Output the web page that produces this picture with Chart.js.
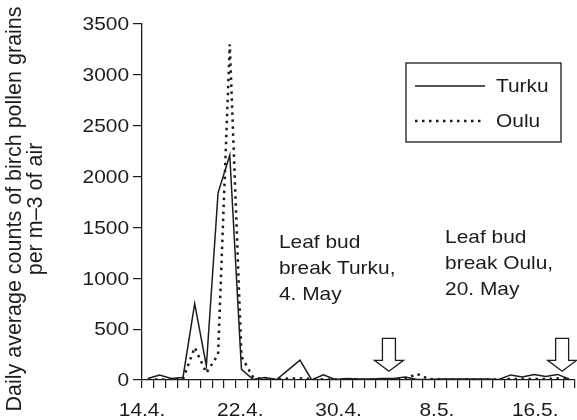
<!DOCTYPE html>
<html>
<head>
<meta charset="utf-8">
<script src="https://cdn.jsdelivr.net/npm/chart.js@4"></script>
<style>
  html, body { margin: 0; padding: 0; background: #fff; }
  canvas { display: block; }
</style>
</head>
<body>
<canvas id="pollenChart" width="577" height="420"></canvas>
<script>
// dates on the x axis, one per day
const dates = [
  "14.4.", "15.4.", "16.4.", "17.4.", "18.4.", "19.4.", "20.4.", "21.4.", "22.4.", "23.4.",
  "24.4.", "25.4.", "26.4.", "27.4.", "28.4.", "29.4.", "30.4.",
  "1.5.", "2.5.", "3.5.", "4.5.", "5.5.", "6.5.", "7.5.", "8.5.", "9.5.", "10.5.",
  "11.5.", "12.5.", "13.5.", "14.5.", "15.5.", "16.5.", "17.5.", "18.5.", "19.5.", "20.5."
];

// daily average counts
const turku = [
  15, 50, 15, 25, 750, 140, 1840, 2210, 105, 5,
  25, 5, 100, 195, 0, 50, 5,
  15, 10, 10, 15, 15, 30, 5, 5, 10, 10,
  10, 10, 10, 5, 50, 30, 55, 35, 55, 10
];
const oulu = [
  5, 5, 5, 10, 320, 70, 250, 3300, 230, 25,
  5, 5, 15, 15, 10, 5, 5,
  5, 5, 5, 5, 5, 10, 60, 10, 5, 5,
  5, 5, 5, 5, 10, 10, 10, 10, 15, 10
];

const yTicks = [0, 500, 1000, 1500, 2000, 2500, 3000, 3500];
const labelEvery = 8;
// the source spreads its date labels a little wider than the day slots
const labelSpread = 1.05;

const budBreak = [
  { lines: ["Leaf bud", "break Turku,", "4. May"], date: "4.5.", arrowShift: 0.6, textAt: 11.2, baseline: 248 },
  { lines: ["Leaf bud", "break Oulu,", "20. May"], date: "20.5.", arrowShift: -0.6, textAt: 25.4, baseline: 243 }
];

const INK = "#1c1c1c";
const FONT = "Liberation Sans, Arial, sans-serif";
const SX = 1.1; // the source text is a bit wider than plain Arial

function stretchText(ctx, s, x, y, align) {
  ctx.save();
  ctx.translate(x, y);
  ctx.scale(SX, 1);
  ctx.textAlign = align;
  ctx.fillText(s, 0, 0);
  ctx.restore();
}

function drawArrow(ctx, cx, top) {
  const shaftW = 13, headW = 29, shaftH = 22, headH = 11;
  ctx.save();
  ctx.beginPath();
  ctx.moveTo(cx - shaftW / 2, top);
  ctx.lineTo(cx + shaftW / 2, top);
  ctx.lineTo(cx + shaftW / 2, top + shaftH);
  ctx.lineTo(cx + headW / 2, top + shaftH);
  ctx.lineTo(cx, top + shaftH + headH);
  ctx.lineTo(cx - headW / 2, top + shaftH);
  ctx.lineTo(cx - shaftW / 2, top + shaftH);
  ctx.closePath();
  ctx.fillStyle = "#fff";
  ctx.fill();
  ctx.lineWidth = 1.3;
  ctx.strokeStyle = INK;
  ctx.stroke();
  ctx.restore();
}

const decorations = {
  id: "decorations",
  afterDraw(chart) {
    const ctx = chart.ctx;
    const x = chart.scales.x;
    const y = chart.scales.y;

    ctx.save();
    ctx.fillStyle = INK;
    ctx.textBaseline = "middle";
    ctx.font = "19px " + FONT;

    // y tick labels
    yTicks.forEach(v => {
      stretchText(ctx, String(v), y.right - 13, y.getPixelForValue(v) + 1, "right");
    });

    // x tick labels, every 8th day
    ctx.textBaseline = "alphabetic";
    dates.forEach((d, i) => {
      if (i % labelEvery !== 0) return;
      stretchText(ctx, d, x.getPixelForValue(i * labelSpread - 0.5), 416, "center");
    });

    // bud break notes and arrows
    budBreak.forEach(b => {
      const tx = x.getPixelForValue(b.textAt);
      b.lines.forEach((line, k) => {
        stretchText(ctx, line, tx, b.baseline + k * 26, "left");
      });
      const ax = x.getPixelForValue(dates.indexOf(b.date) + b.arrowShift);
      drawArrow(ctx, ax, y.getPixelForValue(410));
    });

    // legend box
    const box = { left: 406, top: 63, width: 155, height: 79 };
    ctx.lineWidth = 1.3;
    ctx.strokeStyle = INK;
    ctx.strokeRect(box.left, box.top, box.width, box.height);
    chart.data.datasets.forEach((ds, k) => {
      const ly = box.top + 23 + k * 35;
      ctx.save();
      ctx.beginPath();
      ctx.setLineDash(ds.borderDash || []);
      ctx.lineWidth = ds.borderWidth;
      ctx.strokeStyle = ds.borderColor;
      ctx.moveTo(box.left + 9, ly);
      ctx.lineTo(box.left + 79, ly);
      ctx.stroke();
      ctx.restore();
      ctx.textBaseline = "middle";
      stretchText(ctx, ds.label, box.left + 90, ly + 1, "left");
    });

    // rotated axis title, two lines
    ctx.font = "21.5px " + FONT;
    ctx.textAlign = "center";
    ctx.textBaseline = "alphabetic";
    ctx.translate(0, 209);
    ctx.rotate(-Math.PI / 2);
    ctx.fillText("Daily average counts of birch pollen grains", 0, 21);
    ctx.fillText("per m\u20133 of air", 0, 42);
    ctx.restore();
  }
};

const ctx = document.getElementById("pollenChart").getContext("2d");
new Chart(ctx, {
  type: "line",
  data: {
    labels: dates,
    datasets: [
      {
        label: "Turku",
        data: turku,
        borderColor: INK,
        borderWidth: 1.5,
        pointRadius: 0,
        tension: 0,
        fill: false
      },
      {
        label: "Oulu",
        data: oulu,
        borderColor: INK,
        borderWidth: 2.5,
        borderDash: [2.5, 4.5],
        pointRadius: 0,
        tension: 0,
        fill: false
      }
    ]
  },
  options: {
    responsive: false,
    animation: false,
    devicePixelRatio: 1,
    layout: { padding: { left: 133, top: 24, right: 2, bottom: 32 } },
    plugins: {
      legend: { display: false },
      tooltip: { enabled: false }
    },
    scales: {
      x: {
        type: "category",
        offset: true,
        grid: { offset: true, drawOnChartArea: false, tickLength: 8, color: INK, lineWidth: 1.2 },
        border: { color: INK, width: 1.3 },
        ticks: { display: false, autoSkip: false }
      },
      y: {
        min: 0,
        max: 3500,
        grid: { drawOnChartArea: false, tickLength: 9, color: INK, lineWidth: 1.2 },
        border: { color: INK, width: 1.3 },
        ticks: { display: false, stepSize: 500 }
      }
    }
  },
  plugins: [decorations]
});
</script>
</body>
</html>
